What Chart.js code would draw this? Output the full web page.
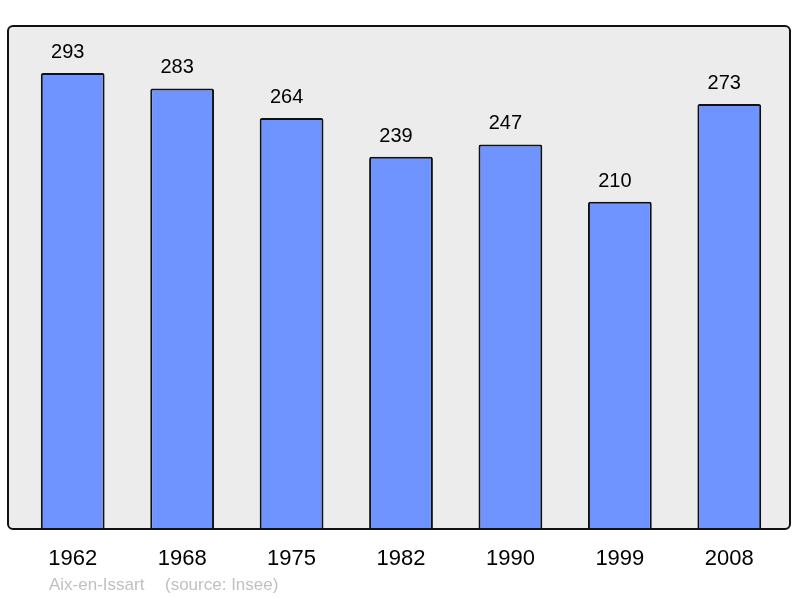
<!DOCTYPE html>
<html>
<head>
<meta charset="utf-8">
<script src="https://cdn.jsdelivr.net/npm/chart.js@4/dist/chart.umd.min.js"></script>
<style>
  html, body { margin: 0; padding: 0; background: #fff; }
  #wrap { width: 800px; height: 598px; }
</style>
</head>
<body>
<div id="wrap"><canvas id="chart" width="800" height="598"></canvas></div>
<script>
const years = ['1962', '1968', '1975', '1982', '1990', '1999', '2008'];
const population = [293, 283, 264, 239, 247, 210, 273];
const commune = 'Aix-en-Issart';
const source = '(source: Insee)';

const FONT = '"Liberation Sans", Arial, sans-serif';

// frame + labels drawn around the chart area
const framePlugin = {
  id: 'frame',
  beforeDraw(chart) {
    const { ctx, chartArea: a } = chart;
    const x0 = a.left - 10, x1 = a.right + 6, y0 = a.top - 1, y1 = a.bottom + 1;
    ctx.save();
    ctx.beginPath();
    ctx.roundRect(x0, y0, x1 - x0, y1 - y0, 5);
    ctx.fillStyle = '#ececec';
    ctx.fill();
    ctx.lineWidth = 2;
    ctx.strokeStyle = '#111';
    ctx.stroke();
    ctx.restore();
  },
  afterDatasetsDraw(chart) {
    const { ctx, chartArea: a } = chart;
    const meta = chart.getDatasetMeta(0);
    ctx.save();
    ctx.fillStyle = '#000';
    ctx.textAlign = 'center';
    ctx.textBaseline = 'alphabetic';
    ctx.font = '20px ' + FONT;
    meta.data.forEach((bar, i) => {
      ctx.fillText(String(population[i]), bar.x - 5, bar.y - 15);
    });
    ctx.font = '22px ' + FONT;
    meta.data.forEach((bar, i) => {
      ctx.fillText(years[i], bar.x, a.bottom + 37);
    });
    ctx.textAlign = 'left';
    ctx.font = '17px ' + FONT;
    ctx.fillStyle = '#c0c0c0';
    ctx.fillText(commune, 49, a.bottom + 62);
    ctx.fillText(source, 165, a.bottom + 62);
    ctx.restore();
  }
};

new Chart(document.getElementById('chart').getContext('2d'), {
  type: 'bar',
  data: {
    labels: years,
    datasets: [{
      data: population,
      backgroundColor: '#7094ff',
      borderColor: '#111',
      borderWidth: 2,
      borderRadius: 2,
      borderSkipped: 'bottom',
      barPercentage: 0.583,
      categoryPercentage: 1
    }]
  },
  options: {
    responsive: false,
    animation: false,
    layout: { padding: { left: 18, right: 16, top: 27, bottom: 70 } },
    plugins: { legend: { display: false }, tooltip: { enabled: false } },
    scales: {
      x: { display: false },
      y: { display: false, min: 0, max: 322.6 }
    }
  },
  plugins: [framePlugin]
});
</script>
</body>
</html>
